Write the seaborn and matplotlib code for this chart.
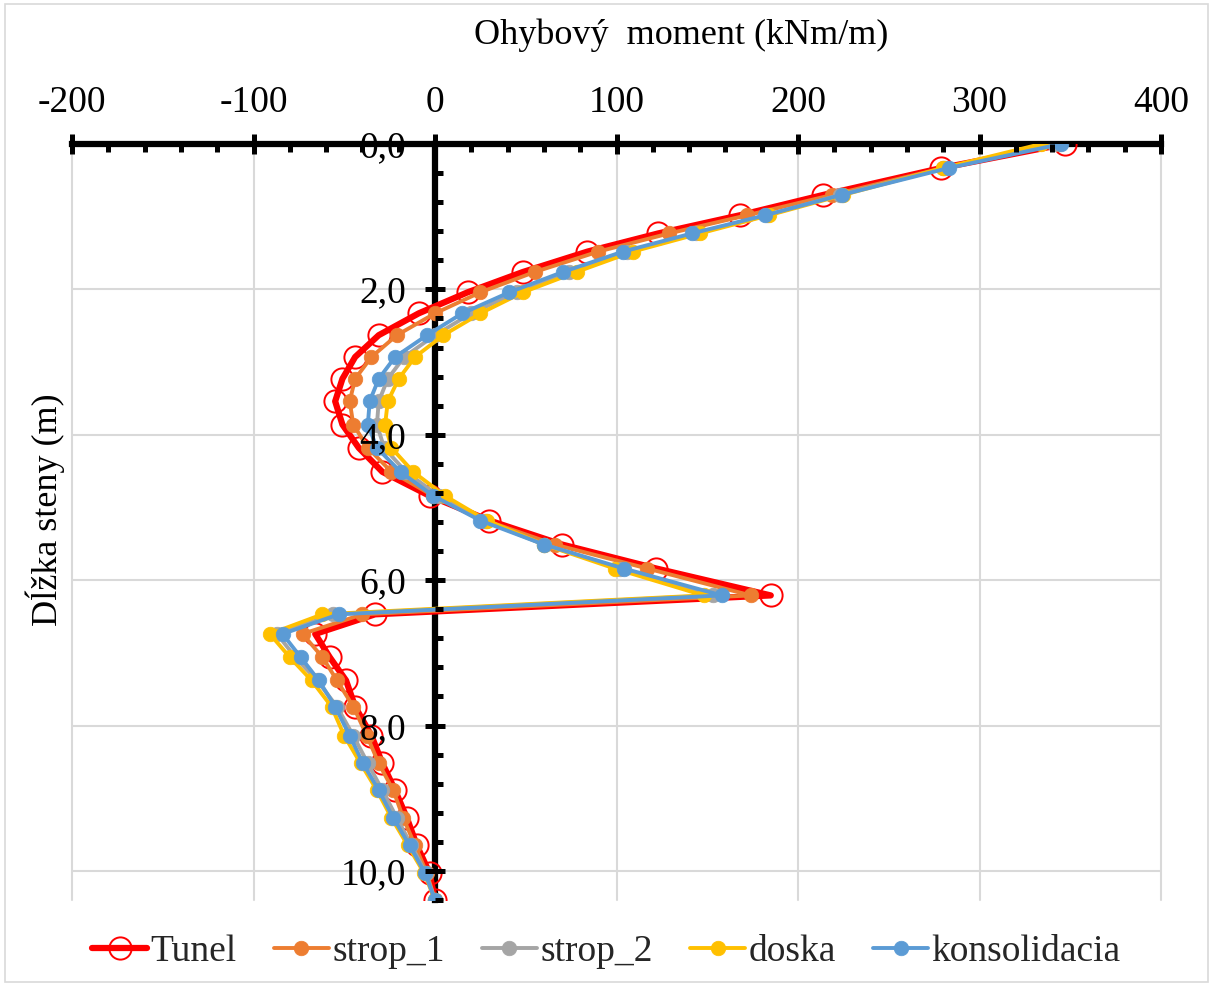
import numpy as np
import pandas as pd
import matplotlib
matplotlib.use("Agg")
import matplotlib.pyplot as plt
import seaborn as sns
from matplotlib.ticker import MultipleLocator, FuncFormatter
from matplotlib.patches import Rectangle

# ---------------- data ----------------
depth = [0.00, 0.33, 0.70, 0.98, 1.23, 1.48, 1.76, 2.04, 2.33, 2.63, 2.93,
         3.23, 3.54, 3.86, 4.18, 4.51, 4.84, 5.18, 5.51, 5.84, 6.21, 6.47,
         6.74, 7.06, 7.38, 7.74, 8.14, 8.52, 8.89, 9.27, 9.65, 10.03, 10.40]

tunel = [347, 279, 214, 168, 123, 84, 48.5, 18, -9, -31, -44,
         -51, -55, -51, -42, -29, -3, 30, 70, 122, 185, -33,
         -66, -58, -49, -44, -35, -29, -22, -15.5, -10, -3, 0]
strop_1 = [344, 280, 219, 172, 129, 90, 55, 25, 0, -21, -35,
           -44, -47, -45, -37, -24, -1, 28, 66, 117, 174, -40,
           -73, -62, -54, -45, -37.5, -31, -23, -17.5, -11, -4.5, 0]
strop_2 = [341, 281, 223, 183, 144, 106, 74, 45, 20, 0, -17,
           -26, -31, -32, -28, -16, 2, 27, 60, 102, 153, -56,
           -87, -77, -65, -54, -45, -37, -29, -21, -13, -5, 0]
doska = [334, 280, 225, 184, 146, 109, 78, 48.5, 25, 4.6, -11,
         -20, -26, -27.5, -24, -12, 5.5, 28.6, 60, 99, 148, -62,
         -91, -80, -68, -57, -50, -41, -32, -24, -15, -6, 0]
konsolidacia = [345, 283, 224, 182, 141.6, 103.6, 70.5, 41, 15, -4.4, -22,
                -31, -36, -37, -32, -19, -1, 25, 60, 104, 158, -53,
                -84, -74, -64, -55, -47, -39.7, -31, -23, -14, -5.5, 0]

series_names = ["Tunel", "strop_1", "strop_2", "doska", "konsolidacia"]
series_vals = [tunel, strop_1, strop_2, doska, konsolidacia]
colors = ["#FF0000", "#ED7D31", "#A5A5A5", "#FFC000", "#5B9BD5"]

x_ticks = [-200, -100, 0, 100, 200, 300, 400]
y_ticks = [0, 2, 4, 6, 8, 10]
x_label = "Ohybový  moment (kNm/m)"
y_label = "Dĺžka steny (m)"

# ---------------- style ----------------
sns.set_theme(style="white")
plt.rcParams["font.family"] = ["Liberation Serif", "DejaVu Serif"]
plt.rcParams["axes.unicode_minus"] = False

W, H = 1213, 986
fig = plt.figure(figsize=(W / 100, H / 100), dpi=100)
fig.patch.set_facecolor("white")
ax = fig.add_axes([72 / W, 1 - 900 / H, (1161 - 72) / W, (900 - 144) / H])

# outer chart border
fig.add_artist(Rectangle((0.004, 0.004), 0.992, 0.992, transform=fig.transFigure,
                         fill=False, edgecolor="#D9D9D9", linewidth=1.2))

for name, vals, col in zip(series_names, series_vals, colors):
    df = pd.DataFrame({"moment": vals, "depth": depth})
    if name == "Tunel":
        sns.lineplot(data=df, x="moment", y="depth", sort=False, estimator=None,
                     ax=ax, color=col, linewidth=4.5, marker="o", markersize=16,
                     markerfacecolor="none", markeredgecolor=col,
                     markeredgewidth=1.4, label=name, zorder=3)
    else:
        sns.lineplot(data=df, x="moment", y="depth", sort=False, estimator=None,
                     ax=ax, color=col, linewidth=2.8, marker="o", markersize=10.5,
                     markerfacecolor=col, markeredgecolor=col,
                     markeredgewidth=0.5, label=name, zorder=4)

ax.set_xlim(-200, 400)
ax.set_ylim(10.4, 0)

# gridlines
ax.grid(False)
for xv in x_ticks:
    ax.axvline(xv, color="#D9D9D9", linewidth=1.5, zorder=0, clip_on=False)
for yv in y_ticks[1:]:
    ax.axhline(yv, color="#D9D9D9", linewidth=1.5, zorder=0)

# spines
for s in ["bottom", "right"]:
    ax.spines[s].set_visible(False)
ax.spines["left"].set_position(("data", 0))
ax.spines["left"].set_linewidth(4.5)
ax.spines["top"].set_linewidth(4.5)
ax.spines["left"].set_color("black")
ax.spines["top"].set_color("black")
ax.spines["left"].set_zorder(2)
ax.spines["top"].set_zorder(2)

ax.xaxis.tick_top()
ax.xaxis.set_label_position("top")
ax.set_xticks(x_ticks)
ax.xaxis.set_minor_locator(MultipleLocator(20))
ax.set_yticks(y_ticks)
ax.yaxis.set_minor_locator(MultipleLocator(0.4))
ax.yaxis.set_major_formatter(FuncFormatter(lambda v, p: f"{v:.1f}".replace(".", ",")))
ax.xaxis.set_major_formatter(FuncFormatter(lambda v, p: f"{int(v)}"))

ax.tick_params(axis="x", which="major", direction="inout", length=14, width=3.6,
               color="black", labelsize=27, pad=10, top=True, bottom=False)
ax.tick_params(axis="x", which="minor", direction="in", length=6, width=3.6,
               color="black", top=True, bottom=False)
ax.tick_params(axis="y", which="major", direction="inout", length=14, width=3.6,
               color="black", labelsize=27, pad=14, left=True, right=False)
ax.tick_params(axis="y", which="minor", direction="in", length=6, width=3.6,
               color="black", left=True, right=False)
for lbl in ax.get_xticklabels() + ax.get_yticklabels():
    lbl.set_color("black")

# axis text drawn above the data, like the reference
ax.xaxis.set_zorder(5)
ax.yaxis.set_zorder(5)

ax.set_xlabel(x_label, fontsize=26, color="black")
ax.xaxis.set_label_coords((681 - 72) / (1161 - 72), 1 + (144 - 35) / (900 - 144))
ax.xaxis.label.set_va("center")
ax.set_ylabel("")
fig.text(45 / W, 1 - 510 / H, y_label, rotation=90, fontsize=26,
         ha="center", va="center", color="black")

ax.get_legend().remove()
handles, labels = ax.get_legend_handles_labels()
fig.legend(handles, labels, loc="center", bbox_to_anchor=(0.5, 1 - 952 / H),
           ncol=5, frameon=False, fontsize=27, handlelength=1.45,
           handletextpad=0.1, columnspacing=1.0)

fig.savefig("out.png", dpi=100, facecolor="white")
